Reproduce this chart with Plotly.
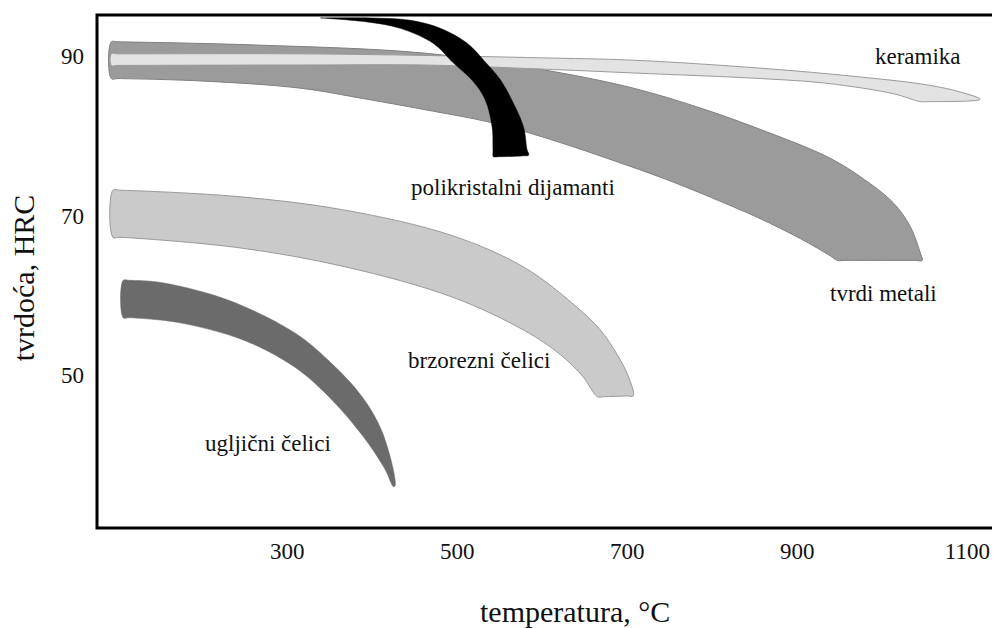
import plotly.graph_objects as go

# ---- data (temperature °C, hardness HRC) ----
# tvrdi metali (hard metals) band
tm_top_T = [93, 101, 265, 460, 601, 707, 786, 857, 935, 974, 1013, 1033, 1045, 1047]
tm_top_H = [91.8, 91.8, 91.4, 90.4, 88.3, 86.0, 83.5, 80.8, 77.4, 74.9, 71.6, 68.6, 65.2, 64.4]
tm_bot_T = [93, 101, 198, 315, 394, 472, 535, 584, 629, 668, 747, 825, 857, 904, 939, 947, 957, 1038]
tm_bot_H = [87.2, 87.2, 86.9, 86.0, 84.6, 83.1, 81.8, 80.4, 78.9, 77.5, 74.5, 71.1, 69.6, 67.1, 64.95, 64.4, 64.4, 64.4]

# keramika (ceramics) band
ke_top_T = [93, 101, 315, 460, 598, 707, 857, 974, 1053, 1092, 1115]
ke_top_H = [90.3, 90.3, 90.3, 90.1, 89.8, 89.5, 88.5, 87.4, 86.4, 85.5, 84.6]
ke_bot_T = [93, 101, 315, 460, 598, 707, 857, 935, 1013, 1045, 1052]
ke_bot_H = [88.85, 88.85, 88.9, 88.9, 88.4, 87.9, 87.2, 86.6, 85.3, 84.3, 84.3]

# polikristalni dijamanti (PCD) band
pcd_out_T = [339, 398, 445, 480, 512, 531, 551, 566, 578, 582, 584, 576]
pcd_out_H = [94.8, 94.8, 94.5, 93.5, 91.6, 89.5, 87.0, 84.1, 81.1, 78.3, 77.6, 77.5]
pcd_in_T = [339, 394, 433, 472, 495, 519, 533, 541, 542, 542.4, 548]
pcd_in_H = [94.8, 94.3, 93.5, 91.6, 89.2, 86.8, 84.5, 81.1, 78.2, 77.4, 77.4]

# brzorezni čelici (high-speed steels) band
bz_top_T = [95, 103, 242, 368, 494, 579, 641, 668, 688, 701, 707]
bz_top_H = [73.2, 73.2, 72.4, 70.7, 67.5, 63.5, 58.5, 55.7, 52.6, 49.9, 47.4]
bz_bot_T = [95, 103, 242, 368, 494, 579, 621, 648, 665, 672, 700]
bz_bot_H = [67.3, 67.3, 66.0, 63.6, 59.8, 55.6, 52.6, 49.8, 47.3, 47.3, 47.4]

# ugljični čelici (carbon steels) band
ug_top_T = [107, 114, 153, 231, 309, 348, 388, 412, 427]
ug_top_H = [61.9, 61.9, 61.6, 59.4, 55.3, 51.9, 47.3, 42.8, 36.2]
ug_bot_T = [107, 114, 172, 251, 309, 348, 388, 415, 425]
ug_bot_H = [57.2, 57.2, 56.6, 54.3, 51.0, 47.4, 42.5, 38.2, 36.0]

labels = ["keramika", "polikristalni dijamanti", "tvrdi metali",
          "brzorezni čelici", "ugljični čelici"]
label_T = [1042, 565, 1001, 525, 277]
label_H = [90.0, 73.5, 60.2, 51.9, 41.4]

x_ticks = [300, 500, 700, 900, 1100]
y_ticks = [50, 70, 90]

FONT = "Liberation Serif, Times New Roman, serif"

fig = go.Figure()


def band(topT, topH, botT, botH, fill, line, lw=1.0):
    xs = list(topT) + list(reversed(botT))
    ys = list(topH) + list(reversed(botH))
    xs.append(xs[0])
    ys.append(ys[0])
    fig.add_trace(go.Scatter(
        x=xs, y=ys, mode="lines", fill="toself", fillcolor=fill,
        line=dict(color=line, width=lw, shape="spline", smoothing=1.0),
        hoverinfo="skip", showlegend=False))


band(tm_top_T, tm_top_H, tm_bot_T, tm_bot_H, "#9b9b9b", "#808080")
band(ke_top_T, ke_top_H, ke_bot_T, ke_bot_H, "#e3e3e3", "#9a9a9a")
band(pcd_out_T, pcd_out_H, pcd_in_T, pcd_in_H, "#000000", "#000000", 0.5)
band(bz_top_T, bz_top_H, bz_bot_T, bz_bot_H, "#cacaca", "#999999")
band(ug_top_T, ug_top_H, ug_bot_T, ug_bot_H, "#6b6b6b", "#6b6b6b", 0.5)

for t, xv, yv in zip(labels, label_T, label_H):
    fig.add_annotation(x=xv, y=yv, text=t, showarrow=False,
                       font=dict(family=FONT, size=23, color="#111111"),
                       xanchor="center", yanchor="middle")

fig.add_annotation(xref="paper", yref="paper", x=0.5305, y=-0.163,
                   text="temperatura, °C", showarrow=False,
                   font=dict(family=FONT, size=30, color="#111111"),
                   xanchor="center", yanchor="middle")
fig.add_annotation(xref="paper", yref="paper", x=-0.082, y=0.487,
                   text="tvrdoća, HRC", showarrow=False, textangle=-90,
                   font=dict(family=FONT, size=30, color="#111111"),
                   xanchor="center", yanchor="middle")

fig.add_shape(type="rect", xref="paper", yref="paper", x0=0, y0=0, x1=1, y1=1,
              line=dict(color="#000000", width=3), layer="above")

fig.update_xaxes(range=[76.2, 1136], tickvals=x_ticks, showgrid=False,
                 zeroline=False, showline=False, ticks="",
                 ticklabelstandoff=7,
                 tickfont=dict(family=FONT, size=23, color="#111111"))
fig.update_yaxes(range=[30.84, 95.17], tickvals=y_ticks, showgrid=False,
                 zeroline=False, showline=False, ticks="",
                 ticklabelstandoff=12,
                 tickfont=dict(family=FONT, size=23, color="#111111"))

# page body adds an 8px margin, so the figure is 8px smaller on each axis
fig.update_layout(width=992, height=620,
                  margin=dict(l=89, r=2, t=7, b=100),
                  paper_bgcolor="white", plot_bgcolor="white")

fig.write_html("out.html")
